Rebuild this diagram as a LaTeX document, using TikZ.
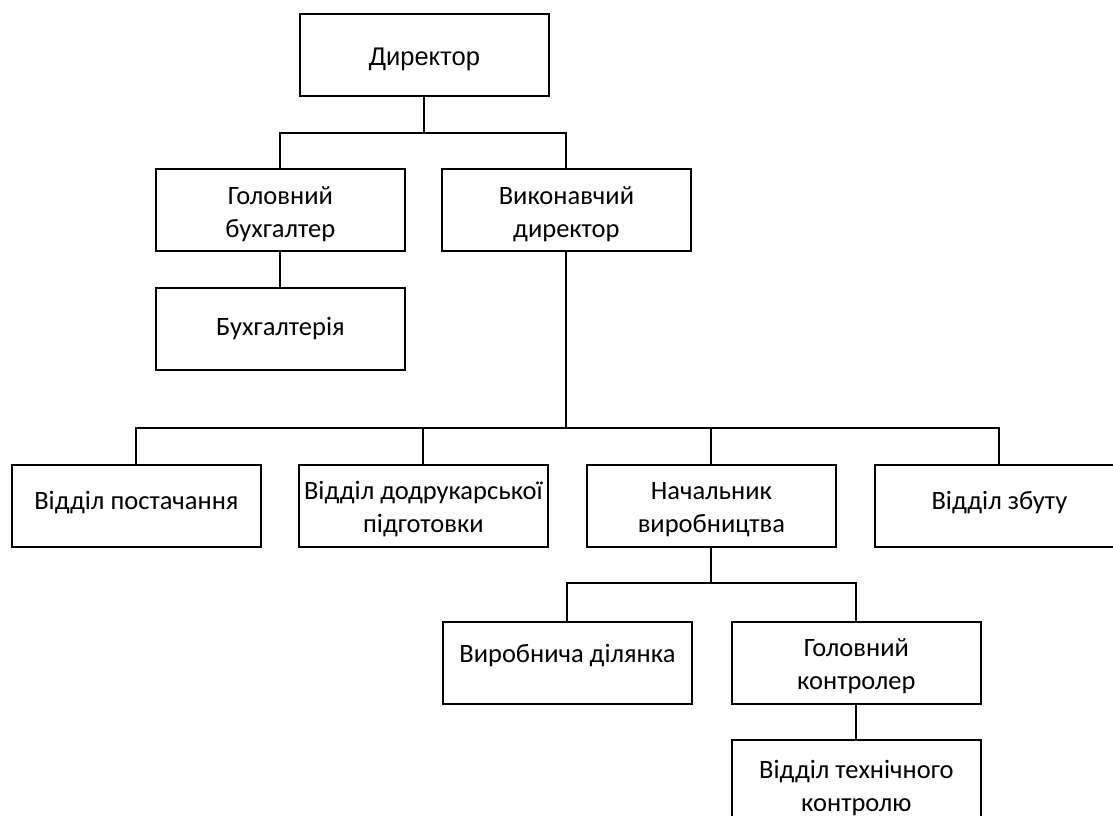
\documentclass[tikz,border=0pt]{standalone}
\usepackage{fontspec}
\usetikzlibrary{calc}
\setmainfont{Carlito}
\newfontfamily\arialf{Liberation Sans}
\newcommand\shiftT[2]{\raisebox{#1}[\height][\depth]{#2}}
\newcommand\twoL[3]{\shiftT{#1}{\begin{tabular}{@{}c@{}}#2\\#3\end{tabular}}}
\begin{document}
\begin{tikzpicture}[x=1pt,y=-1pt,
  box/.style={draw,line width=1.8pt,minimum width=249pt,minimum height=82pt,inner sep=0pt,align=center,
    font=\fontsize{26.5}{33}\selectfont,anchor=north west},
  conn/.style={line width=2pt}]
\useasboundingbox (0,0) rectangle (1113,816);
\clip (0,0) rectangle (1113,816);
\node[box,font=\arialf\fontsize{25.5}{33}\selectfont] (dir) at (299,13) {\shiftT{-4pt}{Директор}};
\node[box] (gb) at (155,168) {\twoL{-4pt}{Головний}{бухгалтер}};
\node[box] (vd) at (441,168) {\twoL{-4pt}{Виконавчий}{директор}};
\node[box] (bh) at (155,287) {Бухгалтерія};
\node[box] (vp) at (11,464) {\shiftT{3pt}{Відділ постачання}};
\node[box] (vdp) at (298,464) {\twoL{-3pt}{Відділ додрукарської}{підготовки}};
\node[box] (nv) at (586,464) {\twoL{-3pt}{Начальник}{виробництва}};
\node[box] (vz) at (874,464) {\shiftT{3pt}{Відділ збуту}};
\node[box] (vdil) at (442,621) {\shiftT{7pt}{Виробнича ділянка}};
\node[box] (gk) at (731,621) {\twoL{-3pt}{Головний}{контролер}};
\node[box] (vtk) at (731,739) {\twoL{-7pt}{Відділ технічного}{контролю}};
\coordinate (j1) at ($(dir.south)+(0,36)$);
\coordinate (j2) at (567,428);
\coordinate (j3) at (710,583);
\draw[conn] (dir.south) -- (j1);
\draw[conn] (gb.north) |- (j1) -| (vd.north);
\draw[conn] (gb.south) -- (bh.north);
\draw[conn] (vd.south) -- (vd.south |- j2);
\draw[conn] (vp.north) |- (j2) -| (vz.north);
\draw[conn] (vdp.north) -- (vdp.north |- j2);
\draw[conn] (nv.north) -- (nv.north |- j2);
\draw[conn] (nv.south) -- (nv.south |- j3);
\draw[conn] (vdil.north) |- (j3) -| (gk.north);
\draw[conn] (gk.south) -- (vtk.north);
\end{tikzpicture}
\end{document}
